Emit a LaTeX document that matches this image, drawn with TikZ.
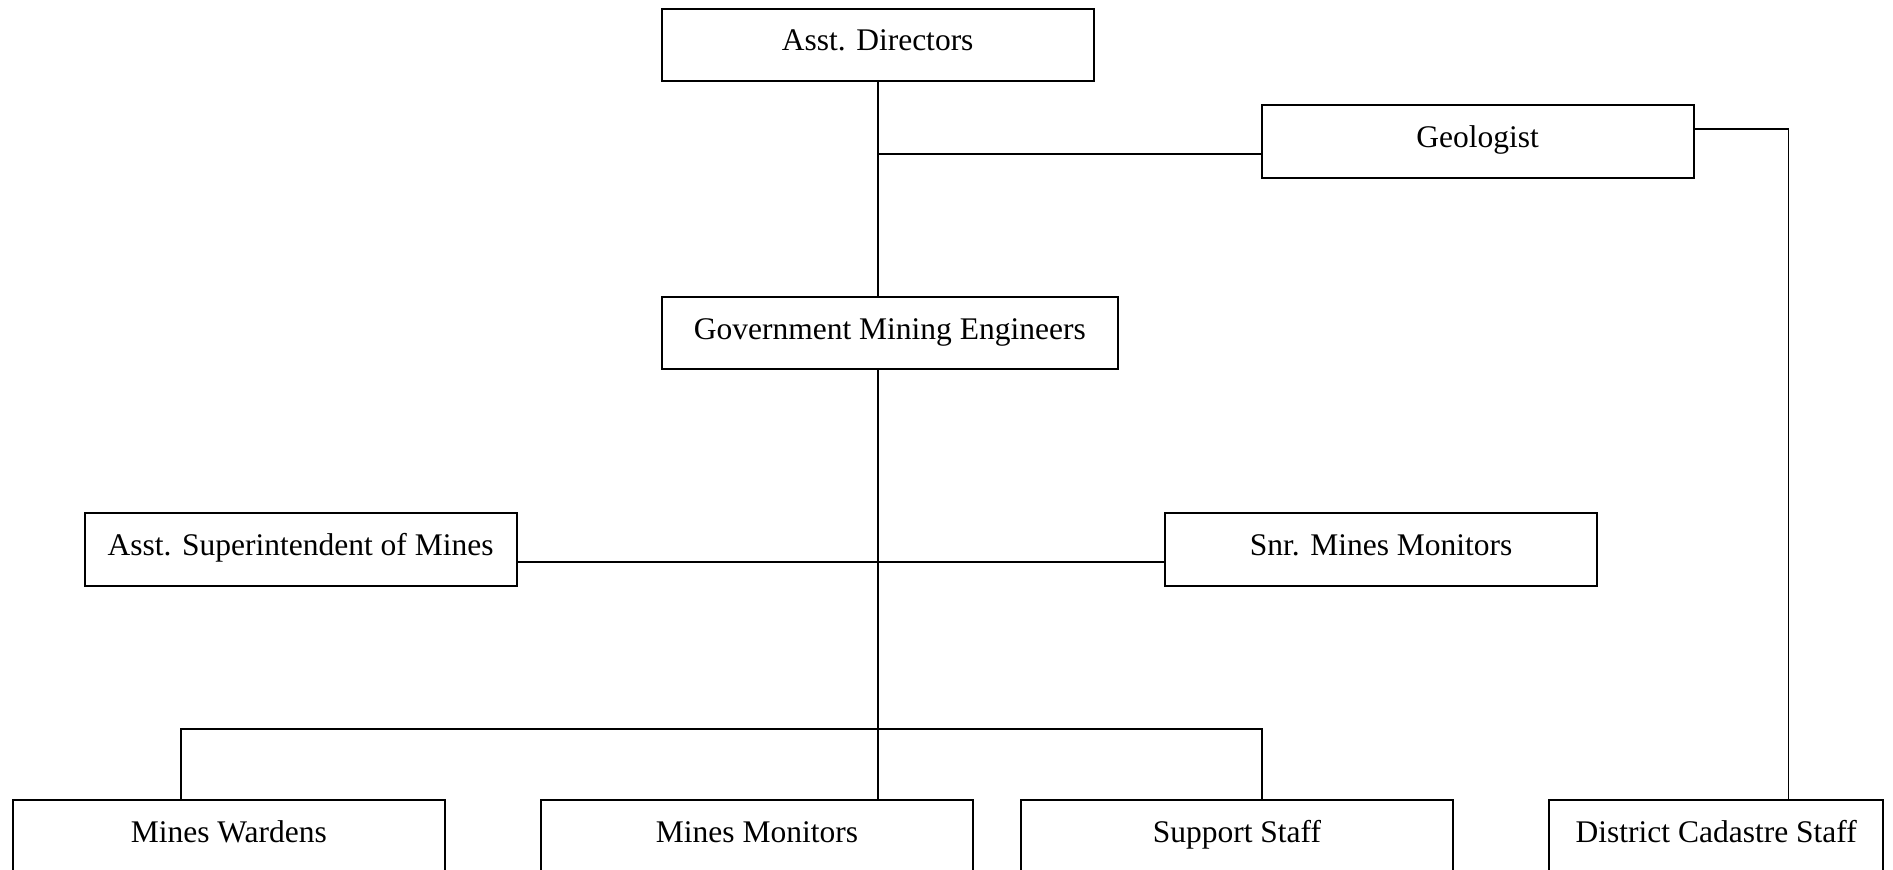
\documentclass[tikz,border=0pt]{standalone}
\usepackage{fontspec}
\setmainfont{Liberation Serif}
\usetikzlibrary{calc}

\tikzset{
  box/.style={draw,line width=2pt,inner sep=0pt,minimum width=432pt,minimum height=72.4pt,
    text height=24pt,text depth=12pt,font=\fontsize{31.5}{36}\selectfont},
  link/.style={line width=1.8pt}
}

\begin{document}
\begin{tikzpicture}[x=1pt,y=-1pt]

\clip (0,0) rectangle (1893,870);

\node[box] (ad) at (877.7,44.7) {Asst. Directors};
\node[box] (geo) at (1477.7,141.3) {Geologist};
\node[box,minimum width=456pt] (gme) at (889.8,333.2) {Government Mining Engineers};
\node[box] (asm) at (300.6,549.3) {Asst. Superintendent of Mines};
\node[box] (snr) at (1381.2,549.3) {Snr. Mines Monitors};

\node[box] (mw) at (228.8,836.6) {Mines Wardens};
\node[box] (mm) at (757,836.6) {Mines Monitors};
\node[box] (ss) at (1236.9,836.6) {Support Staff};
\node[box,minimum width=334.4pt] (dcs) at (1716.2,836.6) {District Cadastre Staff};

% trunk
\draw[link] (ad.south) -- (ad.south |- gme.north);
\draw[link] (ad.south |- gme.south) -- (ad.south |- mm.north);

% side branches
\coordinate (geoin) at ($(geo.north west)!0.667!(geo.south west)$);
\draw[link] (ad.south |- geoin) -- (geoin);
\coordinate (geoout) at ($(geo.north east)!0.333!(geo.south east)$);
\coordinate (dcsin) at ($(dcs.north west)!0.715!(dcs.north east)$);
\draw[link] (geoout) -| (dcsin);

\coordinate (asmout) at ($(asm.north east)!0.667!(asm.south east)$);
\coordinate (snrin) at ($(snr.north west)!0.667!(snr.south west)$);
\draw[link] (asmout) -- (snrin);

% bottom row
\coordinate (mwin) at ($(mw.north west)!0.389!(mw.north east)$);
\coordinate (ssin) at ($(ss.north west)!0.557!(ss.north east)$);
\coordinate (bus) at (877.7,729.2);
\draw[link] (mwin) |- (bus) -| (ssin);

\end{tikzpicture}
\end{document}
